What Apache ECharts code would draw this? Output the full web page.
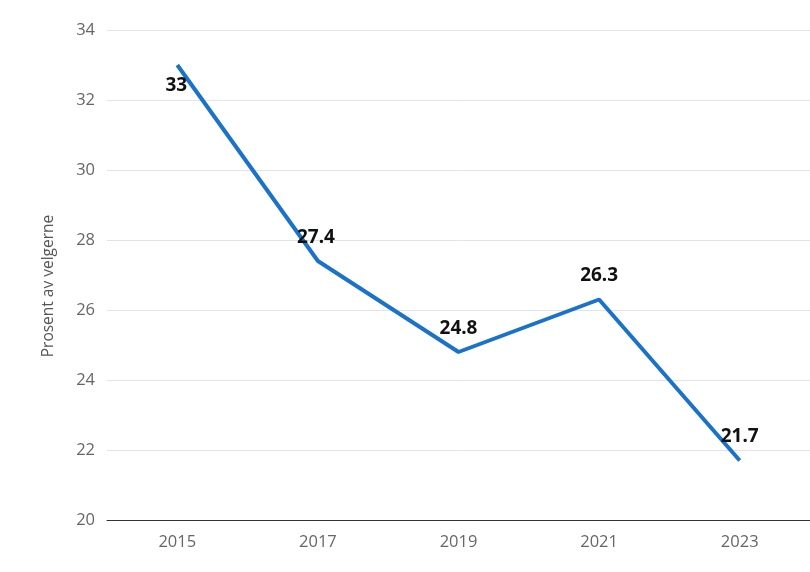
<!DOCTYPE html>
<html><head><meta charset="utf-8">
<script src="https://cdn.jsdelivr.net/npm/echarts@6/dist/echarts.min.js"></script>
<style>html,body{margin:0;padding:0;background:#fff}#c{width:810px;height:572px}</style>
</head><body><div id="c"></div>
<script>
const years = ['2015','2017','2019','2021','2023'];
const values = [33, 27.4, 24.8, 26.3, 21.7];
const yTicks = {min: 20, max: 34, interval: 2};
const yName = 'Prosent av velgerne';

const chart = echarts.init(document.getElementById('c'), null, {renderer:'canvas'});
const data = values.map((v,i) => ({
  value: v,
  label: i === 0 ? {position:'bottom', distance: 11, offset:[-1,0]} : {position:'top', distance: 14, offset: i === 1 ? [-2,0] : [0,0]}
}));
chart.setOption({
  animation:false,
  grid:{left:107, right:0, top:30, bottom:52},
  xAxis:{type:'category', data:years, boundaryGap:true,
    axisLine:{lineStyle:{color:'#333', width:1.2}}, axisTick:{show:false},
    axisLabel:{color:'#666', fontSize:16.5, margin:14, fontFamily:'Open Sans'}},
  yAxis:{type:'value', min:yTicks.min, max:yTicks.max, interval:yTicks.interval,
    name:yName, nameLocation:'middle', nameGap:50, nameRotate:90,
    nameTextStyle:{color:'#555', fontSize:15.5, fontFamily:'Open Sans', padding:[0,22,0,0]},
    axisLabel:{color:'#666', fontSize:16.5, margin:12, fontFamily:'Open Sans'},
    splitLine:{lineStyle:{color:'#e3e3e3'}}},
  series:[{type:'line', data:data, symbol:'circle', symbolSize:0.01, showSymbol:true,
    itemStyle:{color:'rgba(0,0,0,0)'},
    lineStyle:{color:'#1a73c8', width:4},
    label:{show:true, opacity:1, color:'#111', fontWeight:'bold', fontSize:19, fontFamily:'Noto Sans'}}]
});
</script></body></html>
